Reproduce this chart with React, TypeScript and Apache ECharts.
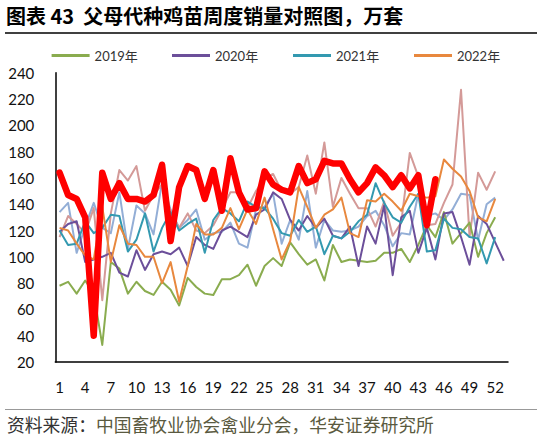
import React, { useEffect, useRef } from "react";
import * as echarts from "echarts";

const weeks = ["1","2","3","4","5","6","7","8","9","10","11","12","13","14","15","16","17","18","19","20","21","22","23","24","25","26","27","28","29","30","31","32","33","34","35","36","37","38","39","40","41","42","43","44","45","46","47","48","49","50","51","52","53"];

const s2017 = [134,141,103,123,141,122,118,149,106,139,133,117,157,136,122,128,136,113,118,119,126,110,107,136,138,148,110,128,113,150,107,128,120,119,120,123,131,135,124,108,118,117,148,131,133,128,136,148,147,113,140,145,null];
const s2018 = [115,131,125,118,137,67,133,166,158,169,135,147,155,134,122,133,120,118,124,136,149,149,137,150,160,163,150,148,153,177,148,187,138,160,148,137,137,123,142,116,126,179,161,124,125,141,155,227,115,164,151,165,null];
const s2019 = [78,81,72,82,72,33,96,91,72,81,74,71,81,75,63,84,77,72,71,83,83,86,94,78,93,99,93,111,102,94,98,82,109,96,98,97,96,97,103,103,106,96,109,124,115,134,110,118,126,100,118,130,null];
const s2020 = [119,125,127,96,98,100,103,88,85,105,90,102,104,102,107,93,115,109,106,120,123,119,115,132,136,149,144,128,120,131,122,129,116,114,123,93,123,110,139,86,130,135,103,122,98,133,134,115,94,131,125,111,97];
const s2021 = [120,109,110,127,118,122,132,131,104,113,133,104,122,134,120,125,129,103,128,137,133,127,142,138,137,129,118,116,128,119,123,102,116,114,119,127,132,156,141,130,126,138,148,104,105,129,122,121,115,114,95,115,null];
const s2022 = [122,120,110,101,98,138,96,124,110,109,100,100,80,96,66,93,125,117,117,122,137,121,136,125,145,121,98,112,153,138,122,132,136,145,118,115,143,142,148,142,135,148,146,145,146,174,167,161,150,130,127,144,null];
const s2023 = [164,147,144,130,40,164,144,156,144,144,142,147,170,112,153,169,166,144,166,135,175,149,136,137,165,155,151,149,169,156,159,173,171,171,159,149,156,168,162,153,162,152,162,124,159];

const yTicks = { min: 20, max: 240, step: 20 };

const titleText = "图表 43  父母代种鸡苗周度销量对照图，万套";
const sourceLabel = "资料来源：";
const sourceText = "中国畜牧业协会禽业分会，华安证券研究所";

const legendNames = ["2019年", "2020年", "2021年", "2022年"];
const legendLefts = [46.6, 167, 288, 409];

export default function App() {
  const ref = useRef<HTMLDivElement>(null);
  useEffect(() => {
    if (!ref.current) return;
    const chart = echarts.init(ref.current, null, { renderer: "svg" });
    const thin = (name: string, data: (number | null)[], color: string, z: number) => ({
      name,
      type: "line",
      data,
      symbol: "none",
      z,
      lineStyle: { color, width: 2, join: "round" },
      itemStyle: { color },
    });
    chart.setOption({
      animation: false,
      backgroundColor: "#ffffff",
      textStyle: { fontFamily: "Lato, 'Noto Sans CJK SC', sans-serif" },
      grid: { left: 55.3, right: 33, top: 72.7, bottom: 75, containLabel: false },
      legend: legendNames.map((n, i) => ({
        data: [n],
        left: legendLefts[i],
        top: 44,
        icon: "rect",
        itemWidth: 38,
        itemHeight: 3,
        itemGap: 5,
        textStyle: { fontSize: 13, color: "#333333", fontFamily: "Lato, 'Noto Sans CJK SC', sans-serif" },
      })),
      xAxis: {
        type: "category",
        data: weeks,
        boundaryGap: true,
        axisLine: { lineStyle: { color: "#000000", width: 1.5 } },
        axisTick: { show: false },
        axisLabel: { interval: 2, fontSize: 15, color: "#111111", margin: 17, fontFamily: "Lato, sans-serif" },
        splitLine: { show: false },
      },
      yAxis: {
        type: "value",
        min: yTicks.min,
        max: yTicks.max,
        interval: yTicks.step,
        axisLine: { show: true, lineStyle: { color: "#000000", width: 1.5 } },
        axisTick: { show: false },
        axisLabel: { fontSize: 15, color: "#111111", margin: 21, fontFamily: "Lato, sans-serif" },
        splitLine: { show: false },
      },
      series: [
        thin("2017年", s2017, "#93aed6", 1),
        thin("2018年", s2018, "#d49a98", 1),
        thin("2019年", s2019, "#8aac4f", 2),
        thin("2020年", s2020, "#6c4f9a", 2),
        thin("2021年", s2021, "#3399b0", 2),
        thin("2022年", s2022, "#e8883e", 2),
        {
          name: "2023年",
          type: "line",
          data: s2023,
          symbol: "none",
          z: 5,
          lineStyle: { color: "#ff0000", width: 6.5, join: "round", cap: "round" },
          itemStyle: { color: "#ff0000" },
        },
      ],
      graphic: [
        {
          type: "text",
          left: 6,
          top: 5,
          style: {
            text: titleText,
            fontSize: 20,
            fontWeight: "bold",
            fill: "#000000",
            fontFamily: "'Noto Sans CJK SC', sans-serif",
          },
        },
        {
          type: "line",
          shape: { x1: 5, y1: 33, x2: 537, y2: 33 },
          style: { stroke: "#000000", lineWidth: 1.5 },
        },
        {
          type: "line",
          shape: { x1: 5, y1: 409.5, x2: 537, y2: 409.5 },
          style: { stroke: "#999999", lineWidth: 1 },
        },
        {
          type: "text",
          left: 7,
          top: 415,
          style: {
            text: "{a|" + sourceLabel + "}{b|" + sourceText + "}",
            rich: {
              a: { fontSize: 17.8, fill: "#333333", fontFamily: "'Noto Sans CJK SC', sans-serif" },
              b: { fontSize: 17.8, fill: "#5a5a40", fontFamily: "'Noto Sans CJK SC', sans-serif" },
            },
          },
        },
      ],
    });
    return () => chart.dispose();
  }, []);
  return <div ref={ref} style={{ position: "fixed", left: 0, top: 0, width: 541, height: 437 }} />;
}
